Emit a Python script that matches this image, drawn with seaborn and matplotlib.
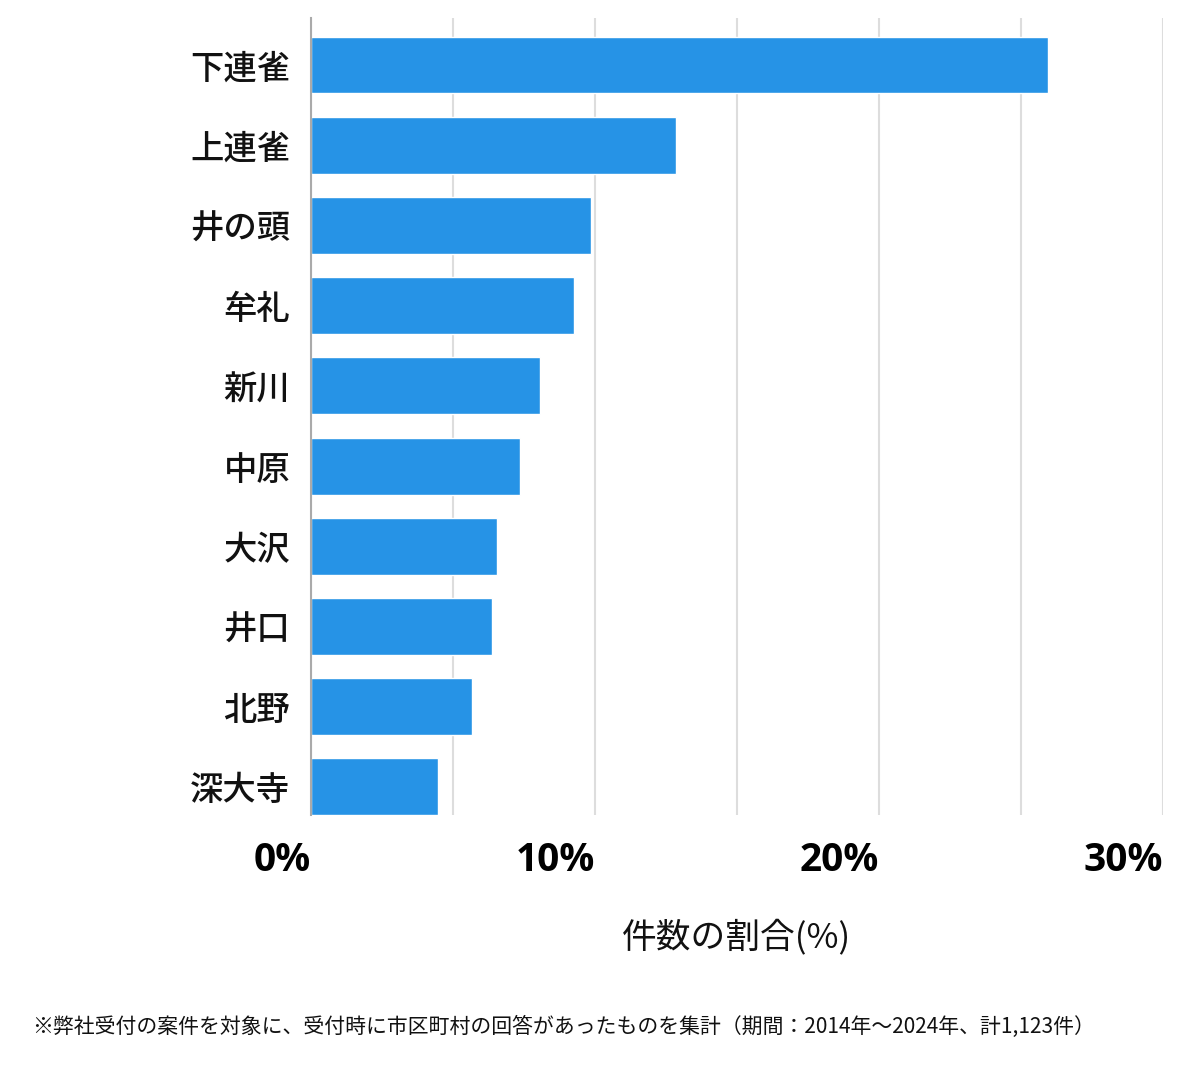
import matplotlib
matplotlib.use("Agg")
import matplotlib.pyplot as plt
import seaborn as sns
import pandas as pd

areas = ["下連雀", "上連雀", "井の頭", "牟礼", "新川", "中原", "大沢", "井口", "北野", "深大寺"]
shares = [25.95, 12.85, 9.86, 9.26, 8.06, 7.36, 6.55, 6.37, 5.67, 4.47]
xticks = [0, 10, 20, 30]
xtick_labels = ["0%", "10%", "20%", "30%"]
xlabel = "件数の割合(%)"
footnote = "※弊社受付の案件を対象に、受付時に市区町村の回答があったものを集計（期間：2014年～2024年、計1,123件）"

sns.set_theme(style="white")
plt.rcParams["font.family"] = ["Noto Sans CJK JP", "DejaVu Sans"]

df = pd.DataFrame({"area": areas, "share": shares})

fig = plt.figure(figsize=(12, 10.69), dpi=100)
ax = fig.add_axes([311/1200, 1-815/1069, (1163-311)/1200, (815-18)/1069])

sns.barplot(data=df, y="area", x="share", orient="h", color="#2693E6",
            saturation=1, width=0.71, ax=ax, zorder=3)

ax.set_xlim(0, 30)
ax.set_ylim(9.35, -0.586)
ax.set_xticks(xticks)
ax.set_xticks([5, 15, 25], minor=True)
ax.grid(axis="x", which="both", color="#dddddd", linewidth=1.5, zorder=0)
ax.set_xticklabels(xtick_labels, ha="right")
for lab in ax.get_xticklabels():
    lab.set_fontfamily(["Open Sans", "DejaVu Sans"])
    lab.set_fontsize(28)
    lab.set_fontweight("bold")
    lab.set_color("#000000")
ax.tick_params(axis="x", which="both", length=0, pad=19)
ax.tick_params(axis="y", length=0, pad=15)
for lab in ax.get_yticklabels():
    lab.set_fontsize(24)
    lab.set_fontweight("medium")
    lab.set_color("#111111")

for s in ["top", "right", "bottom"]:
    ax.spines[s].set_visible(False)
ax.spines["left"].set_color("#aaaaaa")
ax.spines["left"].set_linewidth(1.5)
ax.spines["left"].set_zorder(4)

ax.set_ylabel("")
ax.set_xlabel(xlabel, fontsize=25, labelpad=28, color="#111111")

fig.text(32/1200, 1-1027/1069, footnote, fontsize=15, ha="left", va="center", color="#111111")

fig.savefig("out.png", dpi=100, facecolor="white")
